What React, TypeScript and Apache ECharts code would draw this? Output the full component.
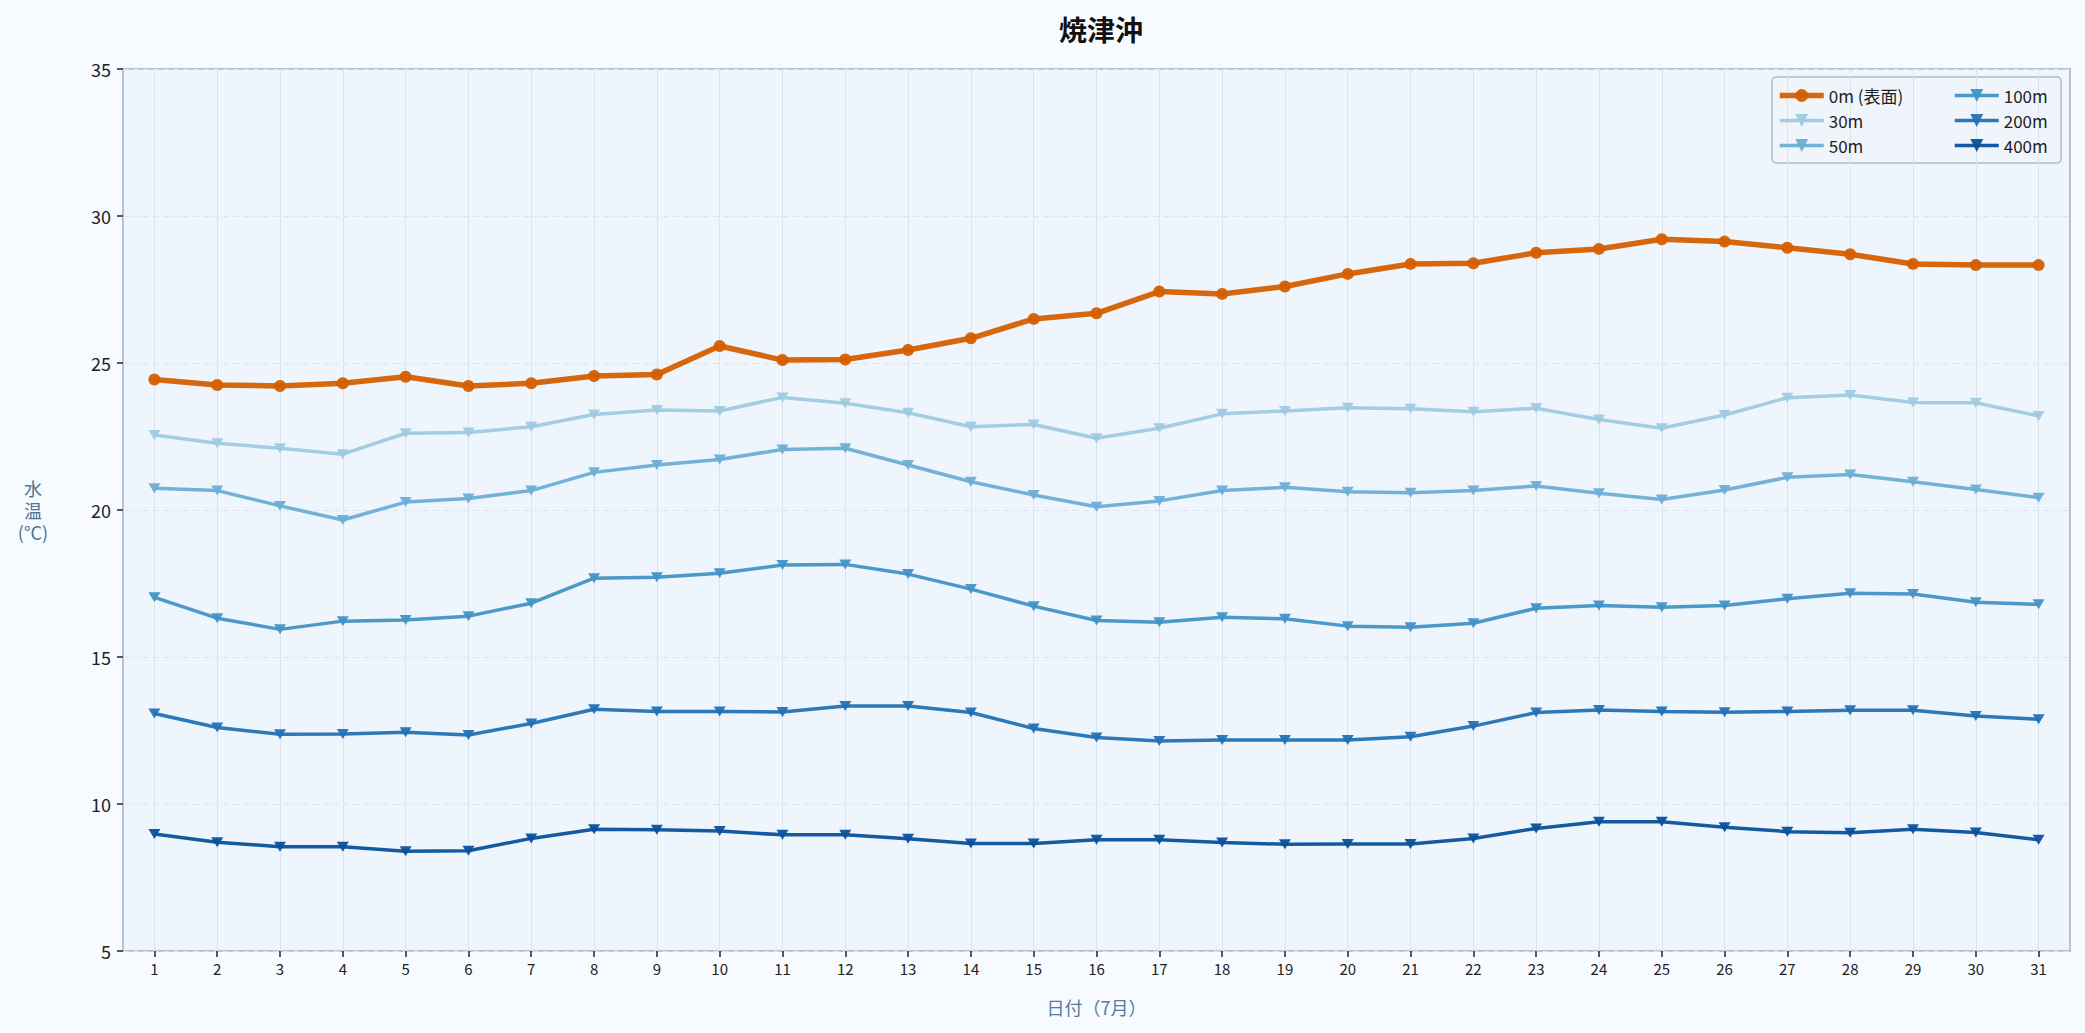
import { useEffect, useRef } from 'react';
import * as echarts from 'echarts';

const days = Array.from({ length: 31 }, (_, i) => String(i + 1));

const depthNames = ['0m (表面)', '30m', '50m', '100m', '200m', '400m'];
const depthColors = ['#d45f00', '#9ecae1', '#6baed6', '#4292c6', '#2171b5', '#08519c'];

const temp0m = [24.44, 24.25, 24.22, 24.31, 24.53, 24.22, 24.31, 24.56, 24.61, 25.58, 25.1, 25.12, 25.44, 25.84, 26.5, 26.69, 27.43, 27.35, 27.6, 28.03, 28.37, 28.39, 28.75, 28.88, 29.21, 29.13, 28.92, 28.7, 28.37, 28.33, 28.33];
const temp30m = [22.55, 22.27, 22.1, 21.9, 22.61, 22.64, 22.83, 23.25, 23.4, 23.37, 23.83, 23.63, 23.31, 22.83, 22.91, 22.44, 22.78, 23.27, 23.37, 23.48, 23.44, 23.34, 23.46, 23.08, 22.78, 23.23, 23.82, 23.91, 23.66, 23.65, 23.2];
const temp50m = [20.74, 20.66, 20.14, 19.66, 20.27, 20.39, 20.66, 21.28, 21.53, 21.72, 22.06, 22.1, 21.53, 20.96, 20.51, 20.11, 20.31, 20.66, 20.77, 20.62, 20.59, 20.66, 20.82, 20.57, 20.36, 20.68, 21.11, 21.21, 20.96, 20.7, 20.42];
const temp100m = [17.03, 16.32, 15.94, 16.22, 16.26, 16.39, 16.83, 17.68, 17.71, 17.85, 18.13, 18.15, 17.82, 17.31, 16.73, 16.24, 16.18, 16.35, 16.3, 16.05, 16.01, 16.15, 16.66, 16.75, 16.69, 16.75, 16.98, 17.17, 17.14, 16.86, 16.79];
const temp200m = [13.08, 12.6, 12.37, 12.38, 12.44, 12.35, 12.74, 13.22, 13.15, 13.15, 13.13, 13.33, 13.33, 13.11, 12.57, 12.26, 12.14, 12.18, 12.18, 12.18, 12.29, 12.65, 13.11, 13.2, 13.15, 13.12, 13.15, 13.19, 13.19, 12.99, 12.88];
const temp400m = [8.98, 8.7, 8.55, 8.55, 8.39, 8.41, 8.83, 9.14, 9.12, 9.08, 8.95, 8.95, 8.82, 8.66, 8.66, 8.78, 8.78, 8.69, 8.63, 8.64, 8.64, 8.83, 9.17, 9.4, 9.4, 9.21, 9.06, 9.02, 9.14, 9.03, 8.78];

const seriesValues = [temp0m, temp30m, temp50m, temp100m, temp200m, temp400m];

const FONT = '"Noto Sans CJK JP", "Noto Sans", sans-serif';

export default function App() {
  const chartRef = useRef<HTMLDivElement | null>(null);

  useEffect(() => {
    document.body.style.margin = '0';
    if (!chartRef.current) {
      return;
    }
    const chart = echarts.init(chartRef.current, undefined, { renderer: 'svg' });

    const lineWidth = (i: number) => (i === 0 ? 5.5 : 3.5);

    const series = depthNames.map((name, i) => {
      const isSurface = i === 0;
      return {
        name,
        type: 'line',
        data: seriesValues[i],
        z: isSurface ? 4 : 3,
        symbol: isSurface ? 'circle' : 'triangle',
        symbolRotate: isSurface ? 0 : 180,
        symbolSize: isSurface ? 12 : [12, 10],
        showSymbol: true,
        lineStyle: { color: depthColors[i], width: lineWidth(i), opacity: 0.95 },
        itemStyle: { color: depthColors[i], opacity: 0.95 },
        emphasis: { disabled: true },
        // vertical grid lines centred on each day
        markLine: isSurface
          ? {
              silent: true,
              z: 1,
              symbol: ['none', 'none'],
              label: { show: false },
              lineStyle: { color: '#dbe4ee', width: 1, type: 'solid' },
              data: days.map((d) => ({ xAxis: d })),
            }
          : undefined,
      };
    });

    const legendItem = (name: string) => {
      const i = depthNames.indexOf(name);
      return { name, lineStyle: { width: lineWidth(i) } };
    };

    const legendBase = {
      orient: 'vertical',
      top: 82,
      itemGap: 8,
      itemWidth: 44,
      itemHeight: 16,
      textStyle: { fontSize: 17, color: '#222', fontFamily: FONT },
    };

    chart.setOption({
      animation: false,
      backgroundColor: '#f7fbff',
      textStyle: { fontFamily: FONT },
      title: {
        text: '焼津沖',
        left: 1096,
        textAlign: 'center',
        top: 10,
        textStyle: { fontSize: 28, fontWeight: 'bold', color: '#111', fontFamily: FONT },
      },
      grid: {
        left: 123,
        right: 15,
        top: 69,
        bottom: 82,
        show: true,
        backgroundColor: '#eff5fc',
        borderColor: '#b3c5d5',
        borderWidth: 2,
      },
      legend: [
        { ...legendBase, left: 1772, data: depthNames.slice(0, 3).map(legendItem) },
        { ...legendBase, left: 1948, data: depthNames.slice(3).map(legendItem) },
      ],
      graphic: [
        {
          type: 'rect',
          z: 0,
          shape: { x: 1772, y: 77, width: 289, height: 86, r: 4 },
          style: { fill: 'rgba(240,245,251,0.85)', stroke: '#a9bccd', lineWidth: 1.5 },
        },
      ],
      xAxis: {
        type: 'category',
        data: days,
        boundaryGap: true,
        name: '日付（7月）',
        nameLocation: 'middle',
        nameGap: 47,
        nameTextStyle: { fontSize: 18, color: '#4f7ca0', fontFamily: FONT },
        axisLine: { show: false },
        axisTick: { show: true, alignWithLabel: true, length: 6, lineStyle: { color: '#222', width: 1.5 } },
        axisLabel: { fontSize: 15, color: '#222', margin: 10, interval: 0, fontFamily: FONT },
        splitLine: { show: false },
      },
      yAxis: {
        type: 'value',
        min: 5,
        max: 35,
        interval: 5,
        name: '水\n温\n(°C)',
        nameLocation: 'middle',
        nameRotate: 0,
        nameGap: 90,
        nameTextStyle: { fontSize: 18, color: '#4a7394', lineHeight: 22, align: 'center', fontFamily: FONT },
        axisLine: { show: false },
        axisTick: { show: true, length: 6, lineStyle: { color: '#222', width: 1.5 } },
        axisLabel: { fontSize: 18, color: '#222', margin: 12, fontFamily: FONT },
        splitLine: { show: true, lineStyle: { color: '#dbe4ee', width: 1, type: [6, 4] } },
      },
      series,
    });

    return () => chart.dispose();
  }, []);

  return <div ref={chartRef} style={{ width: '100vw', height: '100vh' }} />;
}
